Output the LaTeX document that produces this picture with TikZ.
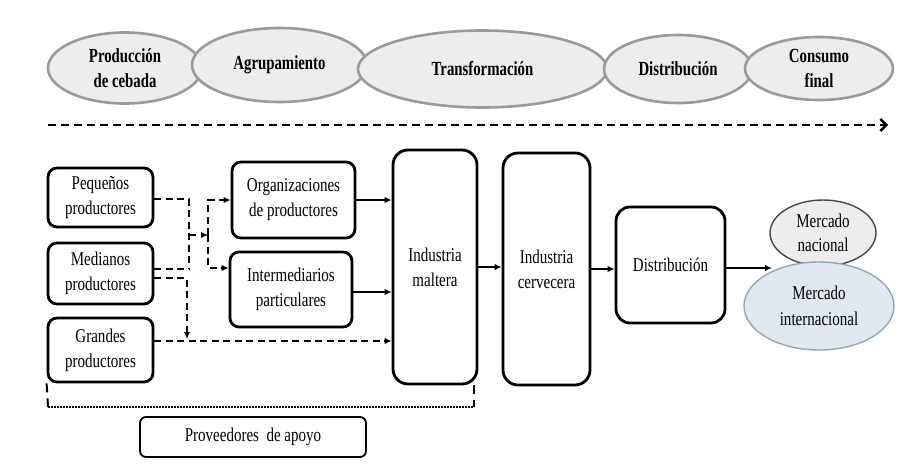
\documentclass[tikz,border=0pt]{standalone}
\usepackage{fontspec}
\setmainfont{Liberation Serif}
\newfontfamily\bodyf[FakeStretch=0.77]{Liberation Serif}
\newfontfamily\boldf[FakeStretch=0.74]{Liberation Serif Bold}
\usetikzlibrary{shapes.geometric,arrows.meta}
\definecolor{phasefill}{HTML}{EDEDED}
\definecolor{phasedraw}{HTML}{9A9A9A}
\definecolor{intlfill}{HTML}{E2E8EF}
\definecolor{intldraw}{HTML}{93A6BA}
\begin{document}
\begin{tikzpicture}[x=1pt,y=-1pt,
  phase/.style={ellipse,draw=phasedraw,fill=phasefill,line width=2.6pt,inner sep=0pt,
     align=center,font={\boldf\fontsize{20}{25}\selectfont}},
  box/.style={draw=black,line width=2.8pt,rounded corners=9pt,inner sep=2pt,align=center,
     font={\bodyf\fontsize{19.5}{25}\selectfont}},
  arr/.style={line width=2pt,-{Latex[length=7pt,width=6.5pt]}},
  dl/.style={line width=2pt,dash pattern=on 7pt off 4.5pt},
  dlarr/.style={dl,-{Latex[length=7pt,width=6.5pt]}},
]
\useasboundingbox[fill=white] (0,0) rectangle (918,474);

% top phases
\node[phase,minimum width=154pt,minimum height=71pt] (e1) at (125,68) {Producción\\de cebada};
\node[phase,minimum width=175pt,minimum height=74pt] (e2) at (279.5,65) {Agrupamiento};
\node[phase,minimum width=249pt,minimum height=77pt] (e3) at (482.5,69) {Transformación};
\node[phase,minimum width=148pt,minimum height=68pt] (e4) at (678,69) {Distribución};
\node[phase,minimum width=148pt,minimum height=63pt] (e5) at (819,68.5) {Consumo\\final};

\coordinate (ta) at (48,125);
\coordinate (tb) at (888,125);
\draw[line width=2.8pt,dash pattern=on 8pt off 5pt,-{Straight Barb[length=6pt,width=12pt,line width=2.4pt]}] (ta) -- (tb);

% boxes
\node[box,minimum width=105pt,minimum height=59pt] (peq) at (100.5,197.5) {Pequeños\\productores};
\node[box,minimum width=105pt,minimum height=61pt] (med) at (100.5,273.5) {Medianos\\productores};
\node[box,minimum width=105pt,minimum height=64pt] (gra) at (100.5,350) {Grandes\\productores};
\node[box,minimum width=123pt,minimum height=76pt] (org) at (293.5,200) {Organizaciones\\de productores};
\node[box,minimum width=122pt,minimum height=75pt] (int) at (291,289.5) {Intermediarios\\particulares};
\node[box,minimum width=84pt,minimum height=234pt,rounded corners=15pt] (mal) at (435,267) {Industria\\maltera};
\node[box,minimum width=87pt,minimum height=232pt,rounded corners=15pt] (cer) at (546.5,269) {Industria\\cervecera};
\node[box,minimum width=109pt,minimum height=116pt,rounded corners=14pt] (dis) at (670.5,265) {Distribución};

\node[ellipse,draw=black!72,fill=phasefill,line width=1.4pt,inner sep=0pt,minimum width=106pt,minimum height=66pt,
  align=center,font={\bodyf\fontsize{19.5}{24}\selectfont}] (nac) at (823,233) {Mercado\\nacional};
\node[ellipse,draw=intldraw,fill=intlfill,line width=1.4pt,inner sep=0pt,minimum width=150pt,minimum height=88pt,
  align=center,font={\bodyf\fontsize{19.5}{26}\selectfont}] (intl) at (819,306) {Mercado\\internacional};

\node[draw=black,line width=1.8pt,rounded corners=6pt,minimum width=226pt,minimum height=40pt,
  font={\bodyf\fontsize{19.5}{24}\selectfont}] (prov) at (253,437) {Proveedores\ \ de apoyo};

% solid connectors
\draw[arr] (org.east) -- (org.east -| mal.west);
\draw[arr] ([yshift=-2.5pt]int.east) -- ([yshift=-2.5pt]int.east -| mal.west);
\draw[arr] (mal.east) -- (mal.east -| cer.west);
\draw[arr] (cer.east) -- (cer.east -| dis.west);
\coordinate (mk) at (772,268);
\draw[arr] (dis.east |- mk) -- (mk);

% dashed connectors
\coordinate (j2) at (189,269);
\coordinate (j3) at (189,235);
\coordinate (j4) at (208,235);
\coordinate (j6) at (187,339);
\draw[dl] ([yshift=-1.5pt]peq.east) -| (j2);
\draw[dl] ([yshift=4.5pt]med.east) -- (j2);
\draw[dlarr] (j3) -- (j4);
\draw[dlarr] (j4) |- (org.west);
\draw[dlarr] (j4) |- ([yshift=21.5pt]int.west);
\draw[dlarr] ([yshift=-4.5pt]med.east) -| (j6);
\draw[dlarr] ([yshift=9pt]gra.east) -- ([yshift=9pt]gra.east -| mal.west);

% bracket
\coordinate (bl) at (48,407);
\coordinate (br) at (474,407);
\draw[line width=2pt,dash pattern=on 9pt off 6pt] (gra.south west) -- (bl);
\draw[line width=2pt,dash pattern=on 9pt off 6pt] (br |- mal.south) -- (br);
\draw[line width=2pt,dash pattern=on 1.6pt off 1.4pt] (bl) -- (br);
\end{tikzpicture}
\end{document}
